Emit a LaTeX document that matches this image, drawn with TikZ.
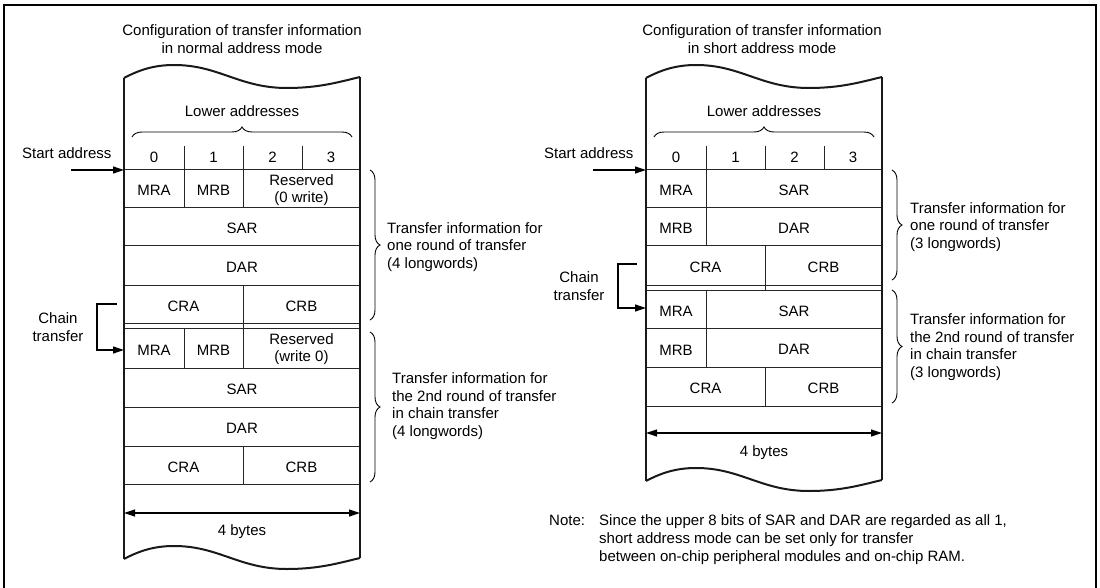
\documentclass[tikz,border=0pt]{standalone}
\usepackage{fontspec}
\setmainfont{Liberation Sans}
\usetikzlibrary{arrows.meta,decorations.pathreplacing}
\newcommand\fs{\fontsize{15}{17.7}\selectfont}
\newcommand\wavecurve[2]{\draw[side, shift={(#1,#2)}] (0,0) .. controls (15,-8) and (30,-13) .. (50,-13) .. controls (95,-13) and (115,10) .. (163,10) .. controls (195,10) and (215,4) .. (236,-1);}
\begin{document}
\begin{tikzpicture}[x=1pt,y=-1pt,
  every node/.style={inner sep=0pt, font=\fs, text=black},
  grid/.style={line width=0.9pt, draw=black!85},
  side/.style={line width=2pt, draw=black!90, line join=round},
  arr/.style={line width=1.2pt, -{Triangle[length=11pt,width=7pt]}},
  darr/.style={line width=1.2pt, {Triangle[length=11pt,width=7pt]}-{Triangle[length=11pt,width=7pt]}},
  brc/.style={line width=0.9pt, decorate, decoration={brace, amplitude=10pt}},
  frame/.style={line width=1.8pt, draw=black}]
\useasboundingbox (0,0) rectangle (1100,588);
\fill[white] (0,0) rectangle (1100,588);
\draw[frame] (4,588) -- (4,5) -- (1096,5) -- (1096,588);

% ================= LEFT DIAGRAM =================
\node (lt) at (242,39) [align=center] {Configuration of transfer information\\in normal address mode};
% grid
\draw[grid] (124,169) -- (360,169) (124,207) -- (360,207) (124,245) -- (360,245)
  (124,285) -- (360,285) (124,323) -- (360,323) (124,328) -- (360,328)
  (124,368) -- (360,368) (124,407) -- (360,407) (124,446) -- (360,446) (124,484) -- (360,484);
\draw[grid] (184,146) -- (184,207) (243,146) -- (243,207) (302,146) -- (302,169)
  (243,285) -- (243,368) (184,328) -- (184,368) (243,446) -- (243,484);
% sides and waves
\draw[side] (124,78) -- (124,559);
\draw[side] (360,77) -- (360,558);
\wavecurve{124}{78}
\wavecurve{124}{559}
% header
\node (lla) at (242,111) {Lower addresses};
\coordinate (llbA) at (132,137);
\coordinate (llbB) at (352,137);
\draw[brc] (llbA) -- (llbB);
\node (ln0) at (154,157) {0};
\node (ln1) at (213.5,157) {1};
\node (ln2) at (272.5,157) {2};
\node (ln3) at (331,157) {3};
\node (lsa) [anchor=west] at (22,153) {Start address};
\coordinate (lsaS) at (71,170);
\coordinate (lsaE) at (124,170);
\draw[arr] (lsaS) -- (lsaE);
% cells round 1
\node (lmra1) at (154,190) {MRA};
\node (lmrb1) at (213.5,190) {MRB};
\node (lres1) at (301.5,190) [align=center] {Reserved\\(0 write)};
\node (lsar1) at (242,228) {SAR};
\node (ldar1) at (242,267) {DAR};
\node (lcra1) at (183.5,306) {CRA};
\node (lcrb1) at (301.5,306) {CRB};
% cells round 2
\node (lmra2) at (154,350) {MRA};
\node (lmrb2) at (213.5,350) {MRB};
\node (lres2) at (301.5,349) [align=center] {Reserved\\(write 0)};
\node (lsar2) at (242,389) {SAR};
\node (ldar2) at (242,428) {DAR};
\node (lcra2) at (183.5,467) {CRA};
\node (lcrb2) at (301.5,467) {CRB};
% braces right
\coordinate (lb1A) at (370,170);
\coordinate (lb1B) at (370,320);
\draw[brc] (lb1A) -- (lb1B);
\node (ltx1) [anchor=west, align=left] at (387,247) {Transfer information for\\one round of transfer\\(4 longwords)};
\coordinate (lb2A) at (370,332);
\coordinate (lb2B) at (370,482);
\draw[brc] (lb2A) -- (lb2B);
\node (ltx2) [anchor=west, align=left] at (392,406) {Transfer information for\\the 2nd round of transfer\\in chain transfer\\(4 longwords)};
% chain transfer
\node (lch) at (58,327) [align=center] {Chain\\transfer};
\coordinate (lchA) at (117,304);
\coordinate (lchB) at (124,350);
\draw[arr] (lchA) -- (97,304) -- (97,350) -- (lchB);
% 4 bytes
\coordinate (l4A) at (124,513);
\coordinate (l4B) at (360,513);
\draw[darr] (l4A) -- (l4B);
\node (l4b) at (242,532) {4 bytes};

% ================= RIGHT DIAGRAM =================
\node (rt) at (762,39) [align=center] {Configuration of transfer information\\in short address mode};
\draw[grid] (646,169) -- (882,169) (646,207) -- (882,207) (646,245) -- (882,245)
  (646,285) -- (882,285) (646,290) -- (882,290) (646,328) -- (882,328)
  (646,367) -- (882,367) (646,406) -- (882,406);
\draw[grid] (706,146) -- (706,169) (765,146) -- (765,169) (824,146) -- (824,169)
  (706,169) -- (706,245) (765,245) -- (765,290) (706,290) -- (706,367) (765,367) -- (765,406);
\draw[side] (646,78) -- (646,481);
\draw[side] (882,77) -- (882,480);
\wavecurve{646}{78}
\wavecurve{646}{481}
\node (rla) at (764,111) {Lower addresses};
\coordinate (rlbA) at (654,137);
\coordinate (rlbB) at (874,137);
\draw[brc] (rlbA) -- (rlbB);
\node (rn0) at (676,157) {0};
\node (rn1) at (735.5,157) {1};
\node (rn2) at (794.5,157) {2};
\node (rn3) at (853,157) {3};
\node (rsa) [anchor=west] at (544,153) {Start address};
\coordinate (rsaS) at (593,170);
\coordinate (rsaE) at (646,170);
\draw[arr] (rsaS) -- (rsaE);
\node (rmra1) at (676,190) {MRA};
\node (rsar1) at (794,190) {SAR};
\node (rmrb1) at (676,228) {MRB};
\node (rdar1) at (794,228) {DAR};
\node (rcra1) at (705.5,267) {CRA};
\node (rcrb1) at (823.5,267) {CRB};
\node (rmra2) at (676,311) {MRA};
\node (rsar2) at (794,311) {SAR};
\node (rmrb2) at (676,350) {MRB};
\node (rdar2) at (794,349) {DAR};
\node (rcra2) at (705.5,388) {CRA};
\node (rcrb2) at (823.5,388) {CRB};
\coordinate (rb1A) at (892,170);
\coordinate (rb1B) at (892,280);
\draw[brc] (rb1A) -- (rb1B);
\node (rtx1) [anchor=west, align=left] at (910,227) {Transfer information for\\one round of transfer\\(3 longwords)};
\coordinate (rb2A) at (892,290);
\coordinate (rb2B) at (892,403);
\draw[brc] (rb2A) -- (rb2B);
\node (rtx2) [anchor=west, align=left] at (910,347) {Transfer information for\\the 2nd round of transfer\\in chain transfer\\(3 longwords)};
\node (rch) at (579,286) [align=center] {Chain\\transfer};
\coordinate (rchA) at (637,264);
\coordinate (rchB) at (646,308);
\draw[arr] (rchA) -- (618,264) -- (618,308) -- (rchB);
\coordinate (r4A) at (646,433);
\coordinate (r4B) at (882,433);
\draw[darr] (r4A) -- (r4B);
\node (r4b) at (764,453) {4 bytes};
% note
\node (nt) [anchor=west] at (549,520) {Note:};
\node (ntx) [anchor=west, align=left] at (599,539.5) {Since the upper 8 bits of SAR and DAR are regarded as all 1,\\short address mode can be set only for transfer\\between on-chip peripheral modules and on-chip RAM.};
\end{tikzpicture}
\end{document}
